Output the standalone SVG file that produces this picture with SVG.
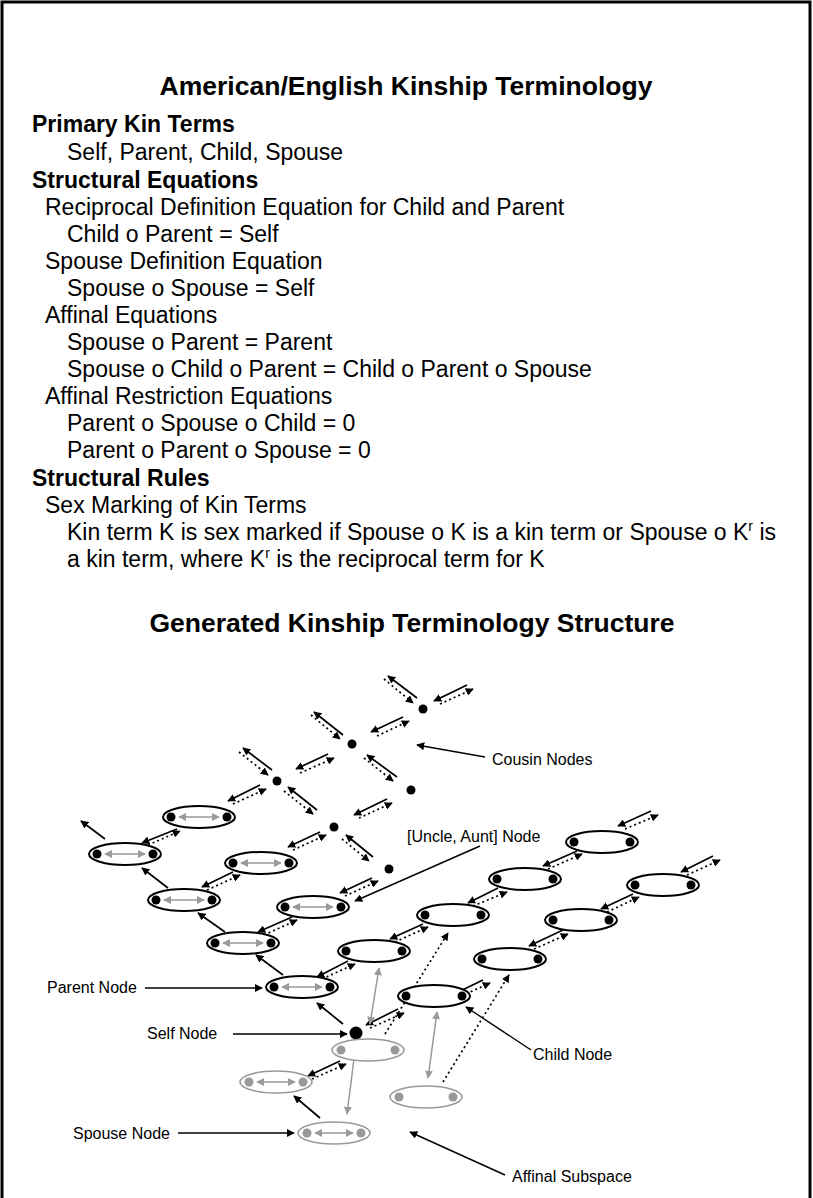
<svg xmlns="http://www.w3.org/2000/svg" width="813" height="1198" viewBox="0 0 813 1198">
<style>
  text { font-family: "Liberation Sans", Arial, sans-serif; fill: #000; }
  .t { font-size: 26.5px; font-weight: bold; text-anchor: middle; }
  .h { font-size: 23px; font-weight: bold; }
  .b { font-size: 23px; }
  .l { font-size: 16px; }
  .s { stroke: #000; stroke-width: 1.7; fill: none; marker-end: url(#a); }
  .d { stroke: #000; stroke-width: 1.7; fill: none; stroke-dasharray: 2 3; marker-end: url(#a); }
  .p { stroke: #000; stroke-width: 1.4; fill: none; marker-end: url(#a); }
  .g2 { stroke: #999; stroke-width: 1.5; fill: none; marker-start: url(#g); marker-end: url(#g); }
  .k { fill: #fff; stroke: #000; stroke-width: 2; }
  .kg { fill: #fff; stroke: #999; stroke-width: 1.6; }
  .dt { fill: #000; }
  .dg { fill: #999; }
</style>
<defs>
  <marker id="a" viewBox="0 0 10 10" refX="9" refY="5" markerWidth="8" markerHeight="8" markerUnits="userSpaceOnUse" orient="auto">
    <path d="M0,0 L10,5 L0,10 z" fill="#000"/>
  </marker>
  <marker id="g" viewBox="0 0 10 10" refX="9" refY="5" markerWidth="8" markerHeight="8" markerUnits="userSpaceOnUse" orient="auto-start-reverse">
    <path d="M0,0 L10,5 L0,10 z" fill="#999"/>
  </marker>
</defs>

<!-- frame -->
<rect x="2" y="2" width="808" height="1300" fill="none" stroke="#000" stroke-width="3"/>

<!-- heading and definitions -->
<g id="definitions">
  <text class="t" x="406" y="95">American/English Kinship Terminology</text>
  <text class="h" x="32" y="132">Primary Kin Terms</text>
  <text class="b" x="67" y="160">Self, Parent, Child, Spouse</text>
  <text class="h" x="32" y="188">Structural Equations</text>
  <text class="b" x="45" y="215">Reciprocal Definition Equation for Child and Parent</text>
  <text class="b" x="67" y="242">Child o Parent = Self</text>
  <text class="b" x="45" y="269">Spouse Definition Equation</text>
  <text class="b" x="67" y="296">Spouse o Spouse = Self</text>
  <text class="b" x="45" y="323">Affinal Equations</text>
  <text class="b" x="67" y="350">Spouse o Parent = Parent</text>
  <text class="b" x="67" y="377">Spouse o Child o Parent = Child o Parent o Spouse</text>
  <text class="b" x="45" y="404">Affinal Restriction Equations</text>
  <text class="b" x="67" y="431">Parent o Spouse o Child = 0</text>
  <text class="b" x="67" y="458">Parent o Parent o Spouse = 0</text>
  <text class="h" x="32" y="486">Structural Rules</text>
  <text class="b" x="45" y="513">Sex Marking of Kin Terms</text>
  <text class="b" x="67" y="540">Kin term K is sex marked if Spouse o K is a kin term or Spouse o K<tspan font-size="14" dy="-9">r</tspan><tspan dy="9"> is</tspan></text>
  <text class="b" x="67" y="567">a kin term, where K<tspan font-size="14" dy="-9">r</tspan><tspan dy="9"> is the reciprocal term for K</tspan></text>
  <text class="t" x="412" y="632">Generated Kinship Terminology Structure</text>
</g>

<!-- connectors -->
<g id="connectors">
  <!-- parent chain (up-left) -->
  <line class="s" x1="343" y1="1024" x2="317" y2="1003"/>
  <line class="s" x1="283" y1="975" x2="256" y2="955"/>
  <line class="s" x1="225" y1="932" x2="198" y2="913"/>
  <line class="s" x1="168" y1="888" x2="142" y2="868"/>
  <line class="s" x1="105" y1="839" x2="81" y2="821"/>
  <line class="s" x1="320" y1="1118" x2="294" y2="1096"/>

  <!-- up-left pairs among cousin nodes -->
  <line class="s" x1="373" y1="857" x2="346" y2="835"/>
  <line class="d" x1="342" y1="839" x2="369" y2="861"/>
  <line class="s" x1="317" y1="810" x2="288" y2="787"/>
  <line class="d" x1="284" y1="791" x2="313" y2="814"/>
  <line class="s" x1="397" y1="777" x2="367" y2="755"/>
  <line class="d" x1="364" y1="758" x2="393" y2="781"/>
  <line class="s" x1="272" y1="770" x2="243" y2="748"/>
  <line class="d" x1="239" y1="752" x2="268" y2="775"/>
  <line class="s" x1="343" y1="735" x2="314" y2="712"/>
  <line class="d" x1="311" y1="715" x2="340" y2="739"/>
  <line class="s" x1="417" y1="698" x2="388" y2="676"/>
  <line class="d" x1="384" y1="679" x2="413" y2="703"/>

  <!-- up-right pairs -->
  <line class="s" x1="177" y1="829" x2="142" y2="843"/>
  <line class="d" x1="148" y1="845" x2="180" y2="831"/>
  <line class="s" x1="260" y1="785" x2="228" y2="801"/>
  <line class="d" x1="233" y1="804" x2="266" y2="789"/>
  <line class="s" x1="328" y1="754" x2="296" y2="769"/>
  <line class="d" x1="300" y1="773" x2="334" y2="758"/>
  <line class="s" x1="403" y1="717" x2="371" y2="732"/>
  <line class="d" x1="377" y1="736" x2="409" y2="721"/>
  <line class="s" x1="467" y1="685" x2="434" y2="701"/>
  <line class="d" x1="440" y1="704" x2="473" y2="689"/>

  <line class="s" x1="233" y1="872" x2="202" y2="887"/>
  <line class="d" x1="207" y1="890" x2="240" y2="875"/>
  <line class="s" x1="320" y1="832" x2="288" y2="847"/>
  <line class="d" x1="293" y1="850" x2="326" y2="835"/>
  <line class="s" x1="387" y1="799" x2="354" y2="815"/>
  <line class="d" x1="359" y1="818" x2="392" y2="803"/>

  <line class="s" x1="292" y1="917" x2="258" y2="932"/>
  <line class="d" x1="264" y1="935" x2="297" y2="920"/>
  <line class="s" x1="372" y1="878" x2="340" y2="893"/>
  <line class="d" x1="345" y1="896" x2="378" y2="881"/>

  <line class="s" x1="348" y1="961" x2="317" y2="977"/>
  <line class="d" x1="322" y1="979" x2="355" y2="964"/>
  <line class="s" x1="423" y1="924" x2="390" y2="939"/>
  <line class="d" x1="395" y1="942" x2="428" y2="927"/>
  <line class="s" x1="498" y1="888" x2="468" y2="903"/>
  <line class="d" x1="473" y1="906" x2="507" y2="892"/>
  <line class="s" x1="577" y1="851" x2="543" y2="866"/>
  <line class="d" x1="548" y1="869" x2="582" y2="854"/>
  <line class="s" x1="651" y1="811" x2="618" y2="826"/>
  <line class="d" x1="625" y1="829" x2="658" y2="815"/>

  <!-- child row -->
  <line class="s" x1="398" y1="1009" x2="366" y2="1025"/>
  <line class="d" x1="370" y1="1028" x2="404" y2="1013"/>
  <line class="s" x1="483" y1="980" x2="452" y2="995"/>
  <line class="d" x1="457" y1="998" x2="490" y2="983"/>
  <line class="s" x1="563" y1="930" x2="529" y2="946"/>
  <line class="d" x1="534" y1="949" x2="568" y2="934"/>
  <line class="s" x1="633" y1="894" x2="601" y2="909"/>
  <line class="d" x1="607" y1="912" x2="639" y2="897"/>
  <line class="s" x1="713" y1="856" x2="681" y2="872"/>
  <line class="d" x1="687" y1="875" x2="720" y2="860"/>

  <!-- affinal row -->
  <line class="s" x1="340" y1="1061" x2="308" y2="1076"/>
  <line class="d" x1="312" y1="1079" x2="346" y2="1064"/>

  <!-- long dotted links -->
  <line class="d" x1="385" y1="1034" x2="448" y2="933"/>
  <line class="d" x1="443" y1="1082" x2="509" y2="975"/>

  <!-- spouse links -->
  <line class="g2" x1="379" y1="968" x2="370" y2="1024"/>
  <line class="g2" x1="356" y1="1043" x2="347" y2="1114"/>
  <line class="g2" x1="437" y1="1012" x2="428" y2="1078"/>

  <!-- label pointers -->
  <line class="p" x1="485" y1="757" x2="417" y2="745"/>
  <line class="p" x1="480" y1="846" x2="355" y2="901"/>
  <line class="p" x1="145" y1="988" x2="262" y2="988"/>
  <line class="p" x1="233" y1="1034" x2="347" y2="1034"/>
  <line class="p" x1="531" y1="1050" x2="466" y2="1007"/>
  <line class="p" x1="178" y1="1133" x2="294" y2="1133"/>
  <line class="p" x1="505" y1="1175" x2="410" y2="1132"/>
</g>

<!-- kin nodes -->
<g id="parent-node"><ellipse class="k" cx="302" cy="987" rx="36" ry="11"/><circle class="dt" cx="274" cy="987" r="4.5"/><circle class="dt" cx="330" cy="987" r="4.5"/><line class="g2" x1="282" y1="987" x2="322" y2="987"/></g>
<g id="grandparent-node"><ellipse class="k" cx="243" cy="943" rx="36" ry="11"/><circle class="dt" cx="215" cy="943" r="4.5"/><circle class="dt" cx="271" cy="943" r="4.5"/><line class="g2" x1="223" y1="943" x2="263" y2="943"/></g>
<g id="great-grandparent-node"><ellipse class="k" cx="184" cy="900" rx="36" ry="11"/><circle class="dt" cx="156" cy="900" r="4.5"/><circle class="dt" cx="212" cy="900" r="4.5"/><line class="g2" x1="164" y1="900" x2="204" y2="900"/></g>
<g id="gg-grandparent-node"><ellipse class="k" cx="125" cy="854" rx="36" ry="11"/><circle class="dt" cx="97" cy="854" r="4.5"/><circle class="dt" cx="153" cy="854" r="4.5"/><line class="g2" x1="105" y1="854" x2="145" y2="854"/></g>
<g id="node-p4r1"><ellipse class="k" cx="199" cy="817" rx="36" ry="11"/><circle class="dt" cx="171" cy="817" r="4.5"/><circle class="dt" cx="227" cy="817" r="4.5"/><line class="g2" x1="179" y1="817" x2="219" y2="817"/></g>
<g id="node-p3r1"><ellipse class="k" cx="261" cy="863" rx="36" ry="11"/><circle class="dt" cx="233" cy="863" r="4.5"/><circle class="dt" cx="289" cy="863" r="4.5"/><line class="g2" x1="241" y1="863" x2="281" y2="863"/></g>
<g id="uncle-aunt-node"><ellipse class="k" cx="313" cy="907" rx="36" ry="11"/><circle class="dt" cx="285" cy="907" r="4.5"/><circle class="dt" cx="341" cy="907" r="4.5"/><line class="g2" x1="293" y1="907" x2="333" y2="907"/></g>
<g id="sibling-node"><ellipse class="k" cx="374" cy="951" rx="36" ry="11"/><circle class="dt" cx="346" cy="951" r="4.5"/><circle class="dt" cx="402" cy="951" r="4.5"/></g>
<g id="node-p1r2"><ellipse class="k" cx="453" cy="915" rx="36" ry="11"/><circle class="dt" cx="425" cy="915" r="4.5"/><circle class="dt" cx="481" cy="915" r="4.5"/></g>
<g id="node-p1r3"><ellipse class="k" cx="525" cy="879" rx="36" ry="11"/><circle class="dt" cx="497" cy="879" r="4.5"/><circle class="dt" cx="553" cy="879" r="4.5"/></g>
<g id="node-p1r4"><ellipse class="k" cx="602" cy="842" rx="36" ry="11"/><circle class="dt" cx="574" cy="842" r="4.5"/><circle class="dt" cx="630" cy="842" r="4.5"/></g>
<g id="child-node"><ellipse class="k" cx="434" cy="996" rx="36" ry="11"/><circle class="dt" cx="406" cy="996" r="4.5"/><circle class="dt" cx="462" cy="996" r="4.5"/></g>
<g id="grandchild-node"><ellipse class="k" cx="510" cy="959" rx="36" ry="11"/><circle class="dt" cx="482" cy="959" r="4.5"/><circle class="dt" cx="538" cy="959" r="4.5"/></g>
<g id="node-c3"><ellipse class="k" cx="581" cy="920" rx="36" ry="11"/><circle class="dt" cx="553" cy="920" r="4.5"/><circle class="dt" cx="609" cy="920" r="4.5"/></g>
<g id="node-c4"><ellipse class="k" cx="663" cy="885" rx="36" ry="11"/><circle class="dt" cx="635" cy="885" r="4.5"/><circle class="dt" cx="691" cy="885" r="4.5"/></g>

<!-- cousin nodes -->
<g id="cousin-1"><circle class="dt" cx="389" cy="869" r="4.5"/></g>
<g id="cousin-2"><circle class="dt" cx="334" cy="827" r="4.5"/></g>
<g id="cousin-3"><circle class="dt" cx="411" cy="790" r="4.5"/></g>
<g id="cousin-4"><circle class="dt" cx="277" cy="781" r="4.5"/></g>
<g id="cousin-5"><circle class="dt" cx="352" cy="744" r="4.5"/></g>
<g id="cousin-6"><circle class="dt" cx="423" cy="709" r="4.5"/></g>

<!-- self -->
<g id="self-node"><circle class="dt" cx="356" cy="1033" r="6.5"/></g>

<!-- affinal subspace -->
<g id="affinal-1"><ellipse class="kg" cx="368" cy="1050" rx="36" ry="11"/><circle class="dg" cx="341" cy="1050" r="4.5"/><circle class="dg" cx="395" cy="1050" r="4.5"/></g>
<g id="affinal-2"><ellipse class="kg" cx="276" cy="1082" rx="36" ry="11"/><circle class="dg" cx="249" cy="1082" r="4.5"/><circle class="dg" cx="303" cy="1082" r="4.5"/><line class="g2" x1="257" y1="1082" x2="295" y2="1082"/></g>
<g id="spouse-node"><ellipse class="kg" cx="334" cy="1133" rx="36" ry="11"/><circle class="dg" cx="307" cy="1133" r="4.5"/><circle class="dg" cx="361" cy="1133" r="4.5"/><line class="g2" x1="315" y1="1133" x2="353" y2="1133"/></g>
<g id="affinal-3"><ellipse class="kg" cx="426" cy="1097" rx="36" ry="11"/><circle class="dg" cx="399" cy="1097" r="4.5"/><circle class="dg" cx="453" cy="1097" r="4.5"/></g>

<!-- labels -->
<g id="labels">
  <text class="l" x="492" y="765">Cousin Nodes</text>
  <text class="l" x="407" y="842">[Uncle, Aunt] Node</text>
  <text class="l" x="47" y="993">Parent Node</text>
  <text class="l" x="147" y="1039">Self Node</text>
  <text class="l" x="533" y="1060">Child Node</text>
  <text class="l" x="73" y="1139">Spouse Node</text>
  <text class="l" x="512" y="1182">Affinal Subspace</text>
</g>
</svg>
